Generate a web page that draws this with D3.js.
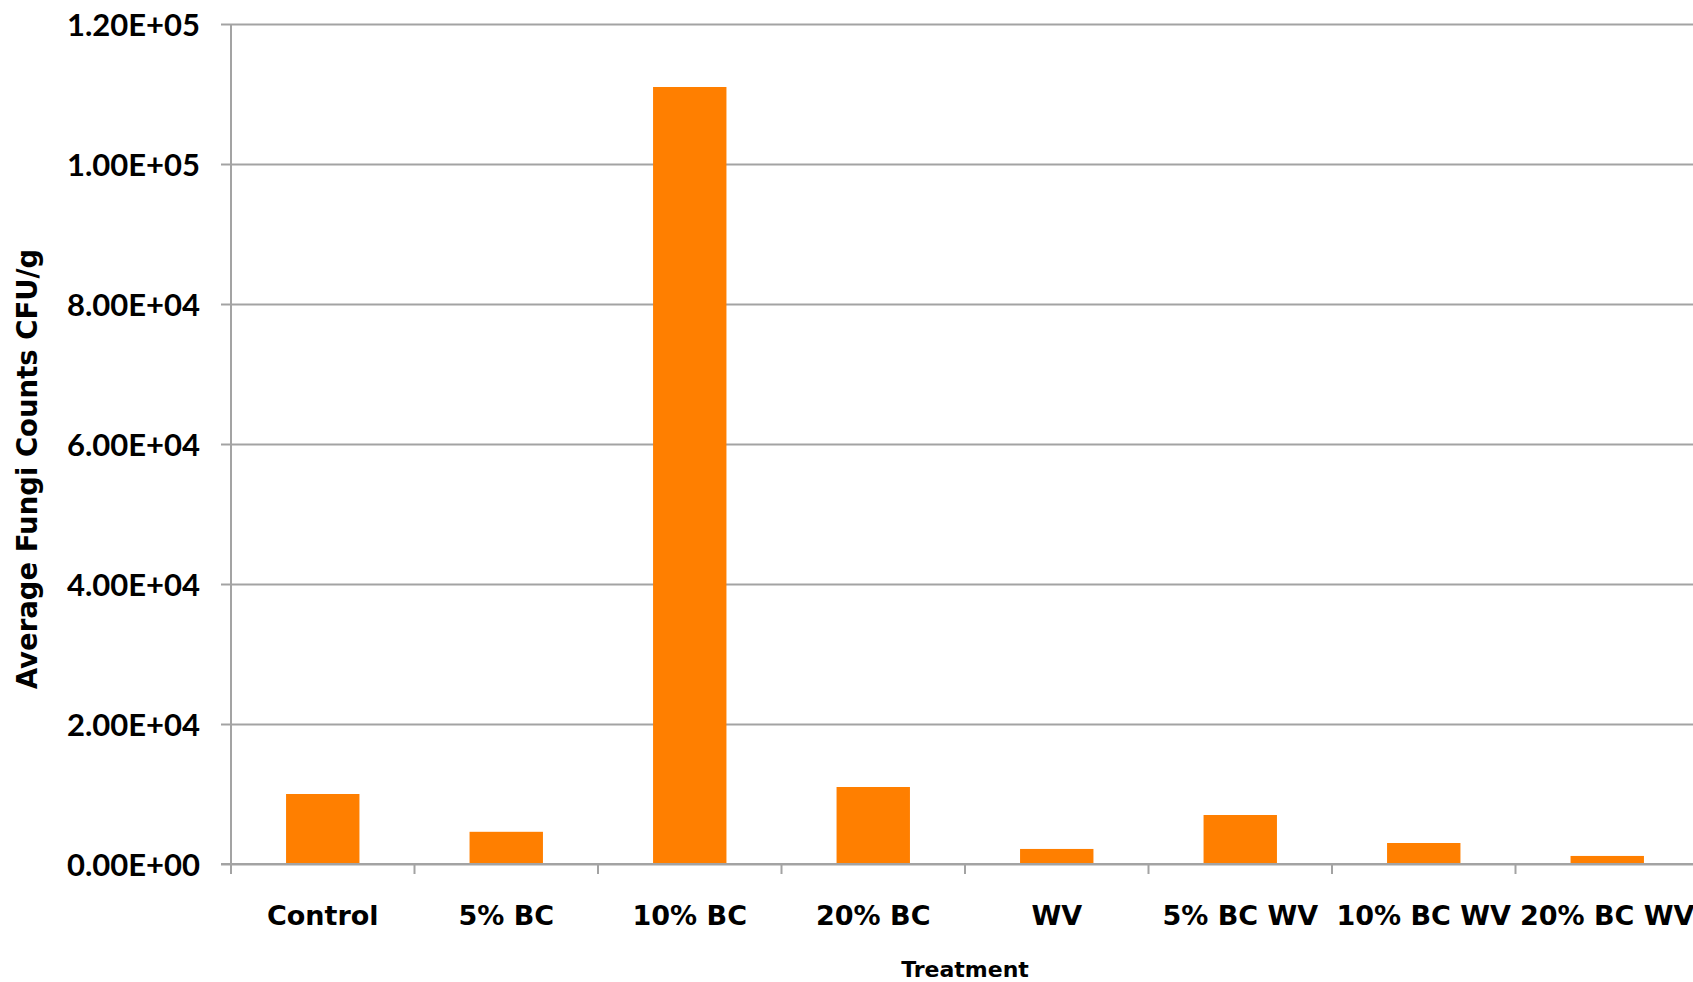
<!DOCTYPE html>
<html>
<head>
<meta charset="utf-8">
<script src="https://cdn.jsdelivr.net/npm/d3@7/dist/d3.min.js"></script>
<style>
  html, body { margin: 0; padding: 0; background: #fff; }
  svg { display: block; }
  text { font-weight: 700; fill: #000; }
  .num { font-family: "Lato", "Open Sans", sans-serif; }
  .lbl { font-family: "DejaVu Sans", "Open Sans", sans-serif; }
</style>
</head>
<body>
<svg id="chart" width="1693" height="982"></svg>
<script>
// Average fungi counts per treatment
const categories = ["Control", "5% BC", "10% BC", "20% BC", "WV", "5% BC WV", "10% BC WV", "20% BC WV"];
const fungiCounts = [10000, 4600, 111000, 11000, 2150, 7000, 3000, 1150];
const yTicks = [0, 20000, 40000, 60000, 80000, 100000, 120000];
const xTitle = "Treatment";
const yTitle = "Average Fungi Counts CFU/g";

const svg = d3.select("#chart");
const W = 1693, H = 982;
const plot = { left: 231, top: 24, bottom: 864, band: 183.5 };
const right = plot.left + plot.band * categories.length;

const x = d3.scaleBand()
  .domain(categories)
  .range([plot.left, right])
  .paddingInner(0.6)
  .paddingOuter(0.3);

const y = d3.scaleLinear()
  .domain([0, 120000])
  .range([plot.bottom, plot.top]);

// Scientific labels such as 1.20E+05
const sci = v => {
  const [m, e] = v.toExponential(2).split("e");
  const sign = e[0] === "-" ? "-" : "+";
  const digits = e.replace(/[+-]/, "").padStart(2, "0");
  return m + "E" + sign + digits;
};

// Horizontal gridlines with small outer ticks
const yAxis = d3.axisLeft(y)
  .tickValues(yTicks)
  .tickFormat(sci)
  .tickSize(-(right - plot.left))
  .tickSizeOuter(0)
  .tickPadding(0);

const gy = svg.append("g")
  .attr("transform", `translate(${plot.left},0)`)
  .call(yAxis);
gy.select(".domain").remove();
gy.selectAll(".tick line")
  .attr("x1", -10)
  .attr("stroke", "#a3a3a3")
  .attr("stroke-width", 2);
gy.selectAll(".tick text")
  .attr("class", "num")
  .attr("x", -31)
  .attr("dy", "0.36em")
  .style("font-size", "31px");

// Vertical axis line
svg.append("line")
  .attr("x1", plot.left).attr("x2", plot.left)
  .attr("y1", plot.top).attr("y2", plot.bottom)
  .attr("stroke", "#a3a3a3").attr("stroke-width", 2);

// Bars
svg.append("g")
  .selectAll("rect")
  .data(categories)
  .join("rect")
  .attr("x", d => x(d))
  .attr("width", x.bandwidth())
  .attr("y", (d, i) => y(fungiCounts[i]))
  .attr("height", (d, i) => y(0) - y(fungiCounts[i]))
  .attr("fill", "#ff7f00");

// Category axis: tick marks between groups
const boundaries = d3.range(categories.length + 1).map(i => plot.left + i * plot.band);
svg.append("line")
  .attr("x1", plot.left - 10).attr("x2", W)
  .attr("y1", plot.bottom).attr("y2", plot.bottom)
  .attr("stroke", "#a3a3a3").attr("stroke-width", 2);
svg.append("g")
  .selectAll("line")
  .data(boundaries)
  .join("line")
  .attr("x1", d => d).attr("x2", d => d)
  .attr("y1", plot.bottom).attr("y2", plot.bottom + 10)
  .attr("stroke", "#a3a3a3").attr("stroke-width", 2);

svg.append("g")
  .selectAll("text")
  .data(categories)
  .join("text")
  .attr("class", "lbl")
  .attr("x", d => x(d) + x.bandwidth() / 2)
  .attr("y", 915)
  .attr("dy", "0.36em")
  .attr("text-anchor", "middle")
  .style("font-size", "27px")
  .text(d => d);

// Axis titles
svg.append("text")
  .attr("class", "lbl")
  .attr("x", (plot.left + right) / 2)
  .attr("y", 969)
  .attr("dy", "0.36em")
  .attr("text-anchor", "middle")
  .style("font-size", "22px")
  .text(xTitle);

svg.append("text")
  .attr("class", "lbl")
  .attr("transform", "translate(27,469) rotate(-90)")
  .attr("dy", "0.36em")
  .attr("text-anchor", "middle")
  .style("font-size", "27.5px")
  .text(yTitle);
</script>
</body>
</html>
